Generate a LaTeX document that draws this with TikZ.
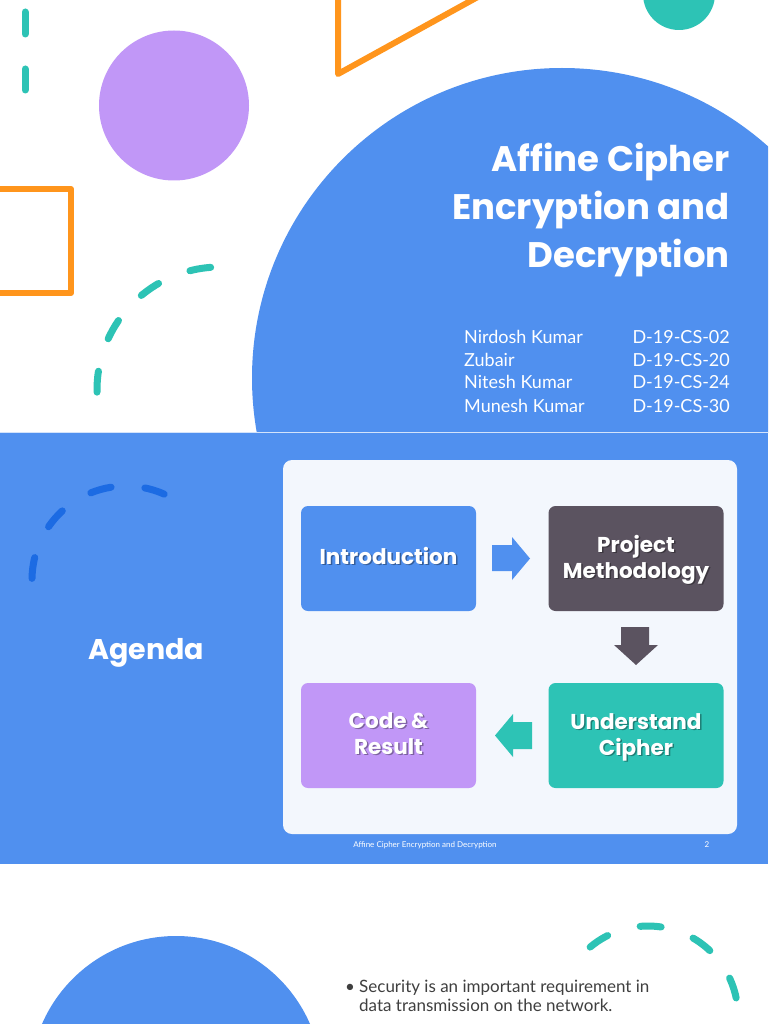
\documentclass[tikz,border=0pt]{standalone}
\usepackage{fontspec}
\setmainfont{Lato}
\newfontfamily\popp{Poppins}
\usetikzlibrary{calc}
\definecolor{bblue}{HTML}{5090EF}
\definecolor{lpurple}{HTML}{C197F7}
\definecolor{tealc}{HTML}{2DC3B5}
\definecolor{orng}{HTML}{FF951C}
\definecolor{dgray}{HTML}{5B5360}
\definecolor{dblue}{HTML}{1C6BE3}
\definecolor{panelc}{HTML}{F3F7FD}
\definecolor{txtgray}{HTML}{3F3F3F}
\tikzset{
  dashedarc/.style={line width=7pt, line cap=round, dash pattern=on 21pt off 34pt},
  agbox/.style={rounded corners=7pt, minimum width=175pt, minimum height=105pt, inner sep=0pt},
  boxtxt/.style={font=\popp\bfseries\fontsize{21.5}{26}\selectfont, text=white, align=center, inner sep=0pt},
  boxshadow/.style={boxtxt, text=black, opacity=0.35},
  title/.style={font=\popp\bfseries\fontsize{35.5}{40}\selectfont, text=white, inner sep=0pt, anchor=base east},
  namet/.style={font=\fontsize{18}{22}\selectfont, text=white, inner sep=0pt},
  bodyt/.style={font=\fontsize{17}{20}\selectfont, text=txtgray, inner sep=0pt, anchor=base west},
  foot/.style={font=\fontsize{8}{10}\selectfont, text=white, inner sep=0pt, anchor=base}
}
\begin{document}
\begin{tikzpicture}[x=1pt,y=-1pt]
\useasboundingbox (0,0) rectangle (768,1024);
% ---------- slide 1 ----------
\fill[white] (0,0) rectangle (768,432);
\begin{scope}
  \clip (0,0) rectangle (768,432);
  \fill[bblue] (562,378) circle[radius=310];
  \fill[tealc] (679,-6) circle[radius=36];
  \draw[orng, line width=6pt, line join=round, line cap=round] (338,-8) -- (338,74) -- (485,-7);
  \draw[orng, line width=6pt, line join=round] (-10,189) -- (71,189) -- (71,293) -- (-10,293);
\end{scope}
\fill[lpurple] (174,105.5) circle[radius=75];
\draw[tealc, line width=7pt, line cap=round] (25,12) -- (25,34) (25,69) -- (25,90);
\draw[tealc, dashedarc] ($(220,390)+(179:123)$) arc[start angle=179, end angle=266, radius=123];
\node[title] (t1) at (730,172) {Affine Cipher};
\node[title] (t2) at (730,219) {Encryption and};
\node[title] (t3) at (730,267) {Decryption};
\node[namet, anchor=base west] (n1) at (464,343) {Nirdosh Kumar};
\node[namet, anchor=base west] (n2) at (464,366) {Zubair};
\node[namet, anchor=base west] (n3) at (464,388) {Nitesh Kumar};
\node[namet, anchor=base west] (n4) at (464,412) {Munesh Kumar};
\node[namet, anchor=base east] (i1) at (730,343) {D-19-CS-02};
\node[namet, anchor=base east] (i2) at (730,366) {D-19-CS-20};
\node[namet, anchor=base east] (i3) at (730,388) {D-19-CS-24};
\node[namet, anchor=base east] (i4) at (730,412) {D-19-CS-30};
% ---------- slide 2 ----------
\fill[bblue] (0,433) rectangle (768,864);
\draw[white!75!bblue, line width=1pt] (0,432.5) -- (768,432.5);
\draw[dblue, dashedarc] ($(126,580)+(181:94)$) arc[start angle=181, end angle=294, radius=94];
\node[font=\popp\bfseries\fontsize{28.5}{34}\selectfont, text=white, inner sep=0pt, anchor=base] (agenda) at (146,659) {Agenda};
\fill[panelc] [rounded corners=9pt] (283,460) rectangle (737,834);
\node[agbox, fill=bblue] (intro) at (388.5,558.5) {};
\node[agbox, fill=dgray] (proj) at (636,558.5) {};
\node[agbox, fill=tealc] (und) at (636,735.5) {};
\node[agbox, fill=lpurple] (code) at (388.5,735.5) {};
% block arrows
\fill[bblue] (492,545) -- (512,545) -- (512,537) -- (530,558.5) -- (512,580) -- (512,571) -- (492,571) -- cycle;
\fill[dgray] (621,627) -- (649,627) -- (649,645) -- (658,645) -- (636,665) -- (614,645) -- (621,645) -- cycle;
\fill[tealc] (532,722) -- (513,722) -- (513,714) -- (495,735.5) -- (513,757) -- (513,749) -- (532,749) -- cycle;
% box labels (anchor base = baseline of last line)
\node[boxshadow, anchor=base] at ($(intro.center)+(1.5,7)$) {Introduction};
\node[boxtxt, anchor=base] (introtxt) at ($(intro.center)+(0,5.5)$) {Introduction};
\node[boxshadow, anchor=base] at ($(proj.center)+(1.5,21)$) {Project\\Methodology};
\node[boxtxt, anchor=base] (projtxt) at ($(proj.center)+(0,19.5)$) {Project\\Methodology};
\node[boxshadow, anchor=base] at ($(und.center)+(1.5,21)$) {Understand\\Cipher};
\node[boxtxt, anchor=base] (undtxt) at ($(und.center)+(0,19.5)$) {Understand\\Cipher};
\node[boxshadow, anchor=base] at ($(code.center)+(1.5,20)$) {Code \&\\Result};
\node[boxtxt, anchor=base] (codetxt) at ($(code.center)+(0,18.5)$) {Code \&\\Result};
\node[foot] (footer) at (425,847) {Affine Cipher Encryption and Decryption};
\node[foot] (pnum) at (707,847) {2};
% ---------- slide 3 ----------
\fill[white] (0,865) rectangle (768,1024);
\begin{scope}
  \clip (0,865) rectangle (768,1024);
  \fill[bblue] (176,1082) circle[radius=146];
\end{scope}
\draw[tealc, dashedarc] ($(648,1016)+(230:90)$) arc[start angle=230, end angle=350, radius=90];
\node[bodyt] (bul) at (345,992) {•};
\node[bodyt] (l1) at (359,992) {Security is an important requirement in};
\node[bodyt] (l2) at (359,1011) {data transmission on the network.};
\end{tikzpicture}
\end{document}
